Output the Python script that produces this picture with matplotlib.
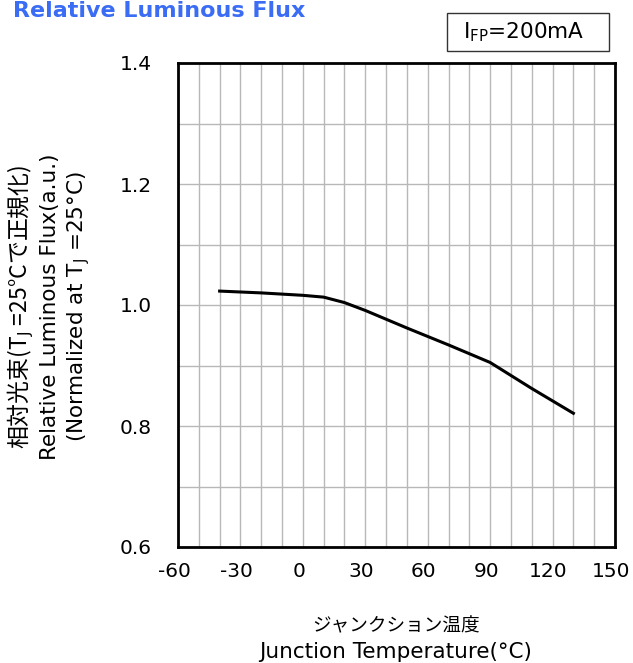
import matplotlib
matplotlib.use("Agg")
import matplotlib.pyplot as plt
from matplotlib.patches import Rectangle
from matplotlib.transforms import ScaledTranslation
import numpy as np

# junction temperature (°C) vs relative luminous flux
temps = [-40, -20, 0, 10, 20, 30, 50, 70, 90, 110, 130]
flux = [1.023, 1.020, 1.016, 1.013, 1.004, 0.991, 0.962, 0.934, 0.905, 0.862, 0.821]

x_ticks = [-60, -30, 0, 30, 60, 90, 120, 150]
y_ticks = [0.6, 0.8, 1.0, 1.2, 1.4]

plt.rcParams['font.family'] = ['DejaVu Sans']
plt.rcParams['axes.unicode_minus'] = False
cjk = ['Noto Sans CJK JP', 'DejaVu Sans']

W, H = 633, 663
fig = plt.figure(figsize=(W / 100, H / 100), dpi=100)
ax = fig.add_axes([178 / W, 1 - 547 / H, (615 - 178) / W, (547 - 63) / H])

ax.plot(temps, flux, color='black', lw=2.2)

ax.set_xlim(-60, 150)
ax.set_ylim(0.6, 1.4)
ax.set_xticks(x_ticks)
ax.set_yticks(y_ticks)
ax.set_yticklabels([f"{v:.1f}" for v in y_ticks])
ax.set_xticks(np.arange(-60, 151, 10), minor=True)
ax.set_yticks(np.arange(0.6, 1.41, 0.1), minor=True)
ax.grid(True, which='both', color='#b8b8b8', lw=1)
ax.tick_params(which='both', length=0, labelsize=14.5)
ax.tick_params(axis='x', pad=11)
ax.tick_params(axis='y', pad=19)
for s in ax.spines.values():
    s.set_linewidth(2)
    s.set_color('black')

# x tick labels sit a few px left of their grid lines in the original
shift = ScaledTranslation(-4 / 100, 0, fig.dpi_scale_trans)
for lbl in ax.get_xticklabels():
    lbl.set_transform(lbl.get_transform() + shift)

# title
fig.text(13 / W, 1 - 17 / H, 'Relative Luminous Flux', color='#3a6cf4', fontsize=16,
         fontweight='bold', va='baseline', ha='left')

# condition box
fig.patches.append(Rectangle((447 / W, 1 - 51 / H), (609 - 447) / W, 38 / H,
                             transform=fig.transFigure, fc='white', ec='#333333', lw=1))
fig.text(463 / W, 1 - 32 / H, 'I$_\\mathrm{FP}$=200mA', fontsize=15.5, ha='left', va='center')

# x label
fig.text(396 / W, 1 - 626 / H, 'ジャンクション温度', family=cjk, fontsize=13.4,
         ha='center', va='center')
fig.text(396 / W, 1 - 652 / H, 'Junction Temperature(°C)', fontsize=15.5,
         ha='center', va='center')

# y label (three lines)
yc = 1 - 307 / H
fig.text(21 / W, yc, '相対光束(T$_\\mathrm{J}$ =25°Cで正規化)', family=cjk, fontsize=16.5,
         rotation=90, ha='center', va='center')
fig.text(50 / W, yc, 'Relative Luminous Flux(a.u.)', fontsize=15.5,
         rotation=90, ha='center', va='center')
fig.text(79 / W, yc, '(Normalized at T$_\\mathrm{J}$ =25°C)', fontsize=15.5,
         rotation=90, ha='center', va='center')

fig.savefig('out.png', dpi=100)
